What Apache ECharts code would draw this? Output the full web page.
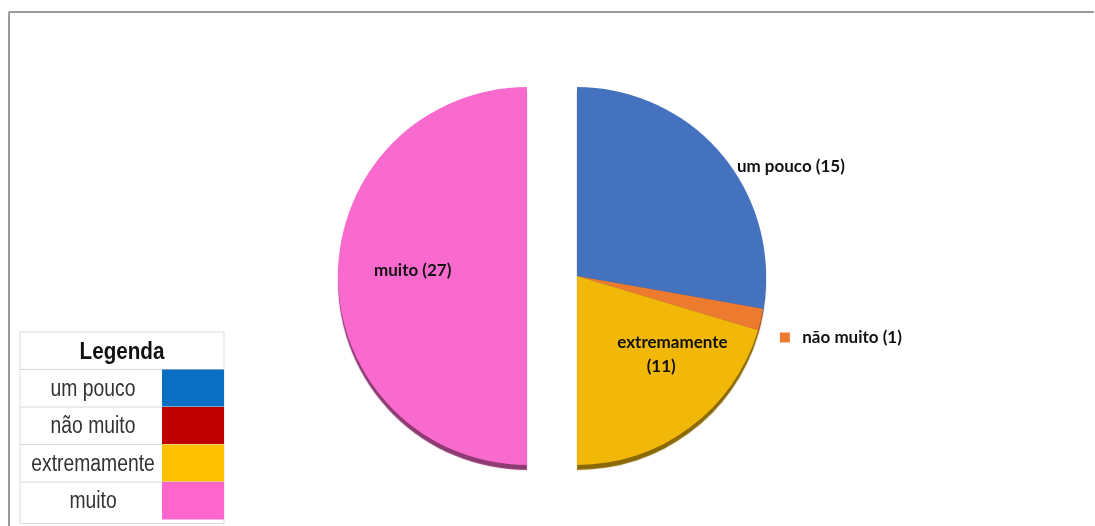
<!DOCTYPE html>
<html>
<head>
<meta charset="utf-8">
<script src="https://cdn.jsdelivr.net/npm/echarts@6/dist/echarts.min.js"></script>
<style>
html,body{margin:0;padding:0;background:#fff;}
#chart{width:1095px;height:526px;}
</style>
</head>
<body>
<div id="chart"></div>
<script>
// ---- data ----
const categories = ['um pouco', 'não muito', 'extremamente', 'muito'];
const values = [15, 1, 11, 27];
const sliceColors = ['#4572BF', '#EC7B30', '#F1B80A', '#F96ACE'];
const edgeColors = ['#2C4F8C', '#9C4E1A', '#8A6A06', '#8E3A73'];
const legendTitle = 'Legenda';
const legendLabels = ['um pouco', 'não muito', 'extremamente', 'muito'];
const legendColors = ['#0A6FC2', '#C00000', '#FFC000', '#FF66CC'];

// label placement relative to inside position (styling, not data)
const labelOffsets = [[128, -47], [169, 39], [26, 0], [-28, -5]];

const chart = echarts.init(document.getElementById('chart'));

const pieData = categories.map((c, i) => {
  const item = {
    name: c,
    value: values[i],
    selected: c === 'muito',
    itemStyle: {
      color: sliceColors[i],
      shadowColor: edgeColors[i],
      shadowBlur: 1,
      shadowOffsetY: 5,
      shadowOffsetX: 0
    },
    label: {
      offset: labelOffsets[i],
      rich: {
        sq: { width: 10, height: 10, backgroundColor: sliceColors[i] }
      }
    }
  };
  item.select = { itemStyle: item.itemStyle, label: { offset: labelOffsets[i], color: '#111' } };
  return item;
});

// legend table built with graphic elements
const tx = 22, tw = 202, cellX = 162, rowH = 37.5, headY = 332;
const legendFont = '"Liberation Sans", Arial, sans-serif';
const graphics = [
  // outer frame
  { type: 'line', shape: { x1: 9, y1: 12, x2: 1094, y2: 12 }, style: { stroke: '#9a9a9a', lineWidth: 2 } },
  { type: 'line', shape: { x1: 9, y1: 12, x2: 9, y2: 526 }, style: { stroke: '#9a9a9a', lineWidth: 2 } },
  // table background
  { type: 'rect', shape: { x: tx - 2, y: headY, width: tw + 2, height: rowH * 5 + 4 }, style: { fill: '#fff', stroke: '#dcdcdc', lineWidth: 1 } },
  { type: 'text', x: 122, y: headY + rowH / 2 + 2, scaleX: 0.86, style: { x: 0, y: 0, text: legendTitle, font: 'bold 24px ' + legendFont, fill: '#111', align: 'center', verticalAlign: 'middle' } }
];
legendLabels.forEach((lab, i) => {
  const y = headY + rowH * (i + 1);
  graphics.push({ type: 'line', shape: { x1: tx - 2, y1: y, x2: tx + tw, y2: y }, style: { stroke: '#d6d6d6', lineWidth: 1 } });
  graphics.push({ type: 'rect', shape: { x: cellX, y: y, width: tx + tw - cellX, height: rowH }, style: { fill: legendColors[i] } });
  graphics.push({ type: 'text', x: 93, y: y + rowH / 2 + 1, scaleX: 0.84, style: { x: 0, y: 0, text: lab, font: '23px ' + legendFont, fill: '#333', align: 'center', verticalAlign: 'middle' } });
});

chart.setOption({
  backgroundColor: '#fff',
  animation: false,
  graphic: graphics,
  series: [{
    type: 'pie',
    center: [577, 276],
    radius: [0, 189],
    startAngle: 90,
    clockwise: true,
    selectedMode: 'single',
    selectedOffset: 50,
    avoidLabelOverlap: false,
    emphasis: { disabled: true },
    label: {
      show: true,
      position: 'inside',
      color: '#111',
      fontFamily: 'Lato, "Open Sans", sans-serif',
      fontWeight: 'bold',
      fontSize: 17,
      lineHeight: 24,
      formatter: p => {
        const txt = p.name + ' (' + p.value + ')';
        if (p.name.length > 10) {
          return '{sq|}   {t|' + p.name + '}\n{t|(' + p.value + ')}';
        }
        return '{sq|}   {t|' + txt + '}';
      },
      rich: {
        t: { color: '#111', fontFamily: 'Lato, "Open Sans", sans-serif', fontWeight: 'bold', fontSize: 17, lineHeight: 24 }
      }
    },
    labelLine: { show: false },
    data: pieData
  }]
});
</script>
</body>
</html>
